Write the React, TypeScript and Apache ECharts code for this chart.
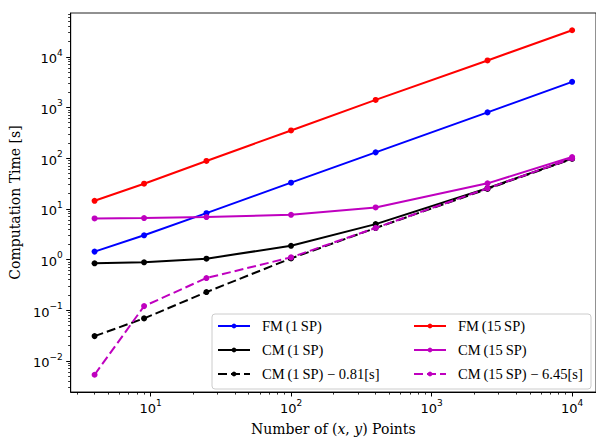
import React, { useEffect, useRef } from 'react';
import * as echarts from 'echarts';

// Data
const points = [4, 9, 25, 100, 400, 2500, 10000];
const fm1 = [1.43, 3.0, 8.2, 32.8, 130, 800, 3210];
const cm1 = [0.84, 0.878, 1.037, 1.86, 4.98, 25.5, 98];
const cm1Shift = [0.0307, 0.0687, 0.227, 1.05, 4.17, 24.7, 97.2];
const fm15 = [14.4, 31.3, 88, 352, 1410, 8480, 33500];
const cm15 = [6.455, 6.565, 6.88, 7.6, 10.65, 31.8, 105];
const cm15Shift = [0.0053, 0.12, 0.43, 1.1, 4.2, 25.35, 98.5];

const names = [
  'FM\u2009(1\u2009SP)',
  'CM\u2009(1\u2009SP)',
  'CM\u2009(1\u2009SP) \u2212 0.81[s]',
  'FM\u2009(15\u2009SP)',
  'CM\u2009(15\u2009SP)',
  'CM\u2009(15\u2009SP) \u2212 6.45[s]',
];

const xMajor = [10, 100, 1000, 10000];
const yMajor = [0.01, 0.1, 1, 10, 100, 1000, 10000];

const X_MIN = 2.705;
const X_MAX = 14790;
const Y_MIN = 0.00242;
const Y_MAX = 73300;

function minorTicks(lo: number, hi: number): number[] {
  const out: number[] = [];
  for (let k = -4; k <= 6; k++) {
    for (let m = 2; m <= 9; m++) {
      const v = m * Math.pow(10, k);
      if (v > lo && v < hi) out.push(v);
    }
  }
  return out;
}

const xMinor = minorTicks(X_MIN, X_MAX);
const yMinor = minorTicks(Y_MIN, Y_MAX);

const tickFormatter = (v: number) => {
  const e = Math.round(Math.log10(v));
  const s = e < 0 ? '\u2212' + -e : String(e);
  return `{b|10}{s|${s}}`;
};

const tickRich = {
  b: { fontSize: 13, fontFamily: 'DejaVu Sans', color: '#000', lineHeight: 17, verticalAlign: 'bottom' },
  s: { fontSize: 9, fontFamily: 'DejaVu Sans', color: '#000', lineHeight: 10, verticalAlign: 'top' },
};

const serif = 'Liberation Serif';
const labelSerif = 'DejaVu Serif';

export default function App() {
  const ref = useRef<HTMLDivElement>(null);

  useEffect(() => {
    document.body.style.margin = '0';
    if (!ref.current) return;
    const chart = echarts.init(ref.current, undefined, { renderer: 'svg' });

    const mk = (name: string, data: number[], color: string, dashed: boolean, z: number) => ({
      type: 'line',
      name,
      data: points.map((x, i) => [x, data[i]]),
      xAxisIndex: 0,
      yAxisIndex: 0,
      symbol: 'circle',
      symbolSize: 6,
      showSymbol: true,
      z,
      lineStyle: { color, width: 2, type: dashed ? [9, 4] : 'solid' },
      itemStyle: { color },
      emphasis: { disabled: true },
    });

    const legendBase = {
      orient: 'vertical',
      top: 318,
      itemWidth: 32,
      itemHeight: 6,
      itemGap: 8,
      padding: 0,
      textStyle: {
        fontFamily: serif,
        fontSize: 14.5,
        lineHeight: 16,
        color: '#000',
        padding: [0, 0, 0, 7],
      },
    };

    chart.setOption({
      animation: false,
      backgroundColor: '#fff',
      grid: {
        left: 69,
        top: 13,
        width: 531,
        height: 383,
        show: true,
        borderColor: '#222',
        borderWidth: 1,
        backgroundColor: 'transparent',
      },
      xAxis: [
        {
          type: 'log',
          logBase: 10,
          min: X_MIN,
          max: X_MAX,
          position: 'bottom',
          axisLine: { show: true, onZero: false, lineStyle: { color: '#000', width: 1 } },
          axisTick: { show: true, customValues: xMajor, length: 4.5, lineStyle: { color: '#000', width: 1 } },
          axisLabel: { customValues: xMajor, formatter: tickFormatter, rich: tickRich, margin: 6 },
          splitLine: { show: false },
          name: 'Number of ({i|x}, {i|y}) Points',
          nameLocation: 'middle',
          nameGap: 30,
          nameTextStyle: {
            fontFamily: labelSerif,
            fontSize: 14,
            color: '#000',
            rich: {
              i: { fontFamily: labelSerif, fontSize: 14, fontStyle: 'italic', color: '#000' },
            },
          },
        },
        {
          type: 'log',
          logBase: 10,
          min: X_MIN,
          max: X_MAX,
          position: 'bottom',
          axisLine: { show: false },
          axisTick: { show: true, customValues: xMinor, length: 2.6, lineStyle: { color: '#000', width: 0.8 } },
          axisLabel: { show: false },
          splitLine: { show: false },
        },
      ],
      yAxis: [
        {
          type: 'log',
          logBase: 10,
          min: Y_MIN,
          max: Y_MAX,
          position: 'left',
          axisLine: { show: true, onZero: false, lineStyle: { color: '#000', width: 1 } },
          axisTick: { show: true, customValues: yMajor, length: 4.5, lineStyle: { color: '#000', width: 1 } },
          axisLabel: { customValues: yMajor, formatter: tickFormatter, rich: tickRich, margin: 8 },
          splitLine: { show: false },
          name: 'Computation Time [s]',
          nameLocation: 'middle',
          nameGap: 44,
          nameRotate: 90,
          nameTextStyle: { fontFamily: labelSerif, fontSize: 14, color: '#000' },
        },
        {
          type: 'log',
          logBase: 10,
          min: Y_MIN,
          max: Y_MAX,
          position: 'left',
          axisLine: { show: false },
          axisTick: { show: true, customValues: yMinor, length: 2.6, lineStyle: { color: '#000', width: 0.8 } },
          axisLabel: { show: false },
          splitLine: { show: false },
        },
      ],
      legend: [
        { ...legendBase, left: 217, data: [names[0], names[1], names[2]] },
        { ...legendBase, left: 413, data: [names[3], names[4], names[5]] },
      ],
      graphic: [
        {
          type: 'rect',
          z: 3,
          shape: { x: 212, y: 314, width: 379, height: 75, r: 3 },
          style: { fill: 'rgba(255,255,255,0.8)', stroke: '#cccccc', lineWidth: 1 },
        },
      ],
      series: [
        mk(names[0], fm1, '#0000ff', false, 2),
        mk(names[1], cm1, '#000000', false, 3),
        mk(names[2], cm1Shift, '#000000', true, 4),
        mk(names[3], fm15, '#ff0000', false, 5),
        mk(names[4], cm15, '#bf00bf', false, 6),
        mk(names[5], cm15Shift, '#bf00bf', true, 7),
      ],
    });

    return () => {
      chart.dispose();
    };
  }, []);

  return <div ref={ref} style={{ width: 596, height: 441 }} />;
}
